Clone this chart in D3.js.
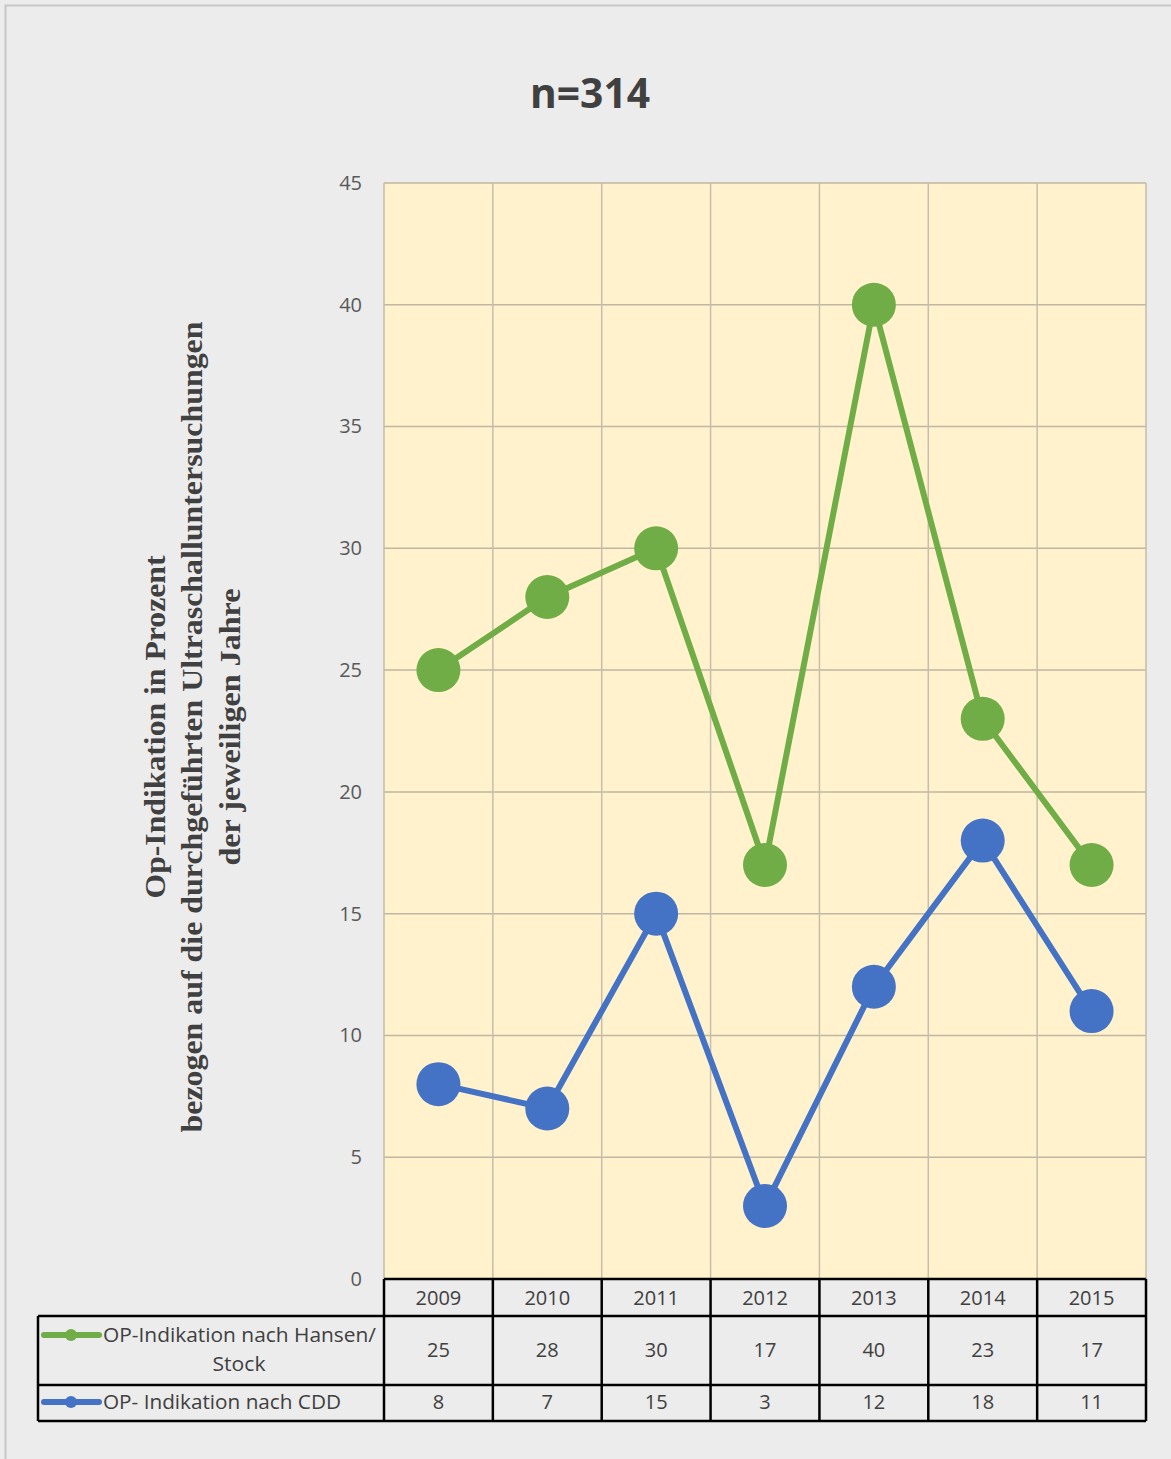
<!DOCTYPE html>
<html>
<head>
<meta charset="utf-8">
<script src="https://cdn.jsdelivr.net/npm/d3@7"></script>
<style>
  html, body { margin: 0; padding: 0; background: #ececec; }
  svg { display: block; }
</style>
</head>
<body>
<svg id="chart" width="1171" height="1459"></svg>
<script>
// Years on the category axis
const years = ["2009", "2010", "2011", "2012", "2013", "2014", "2015"];
// OP indication in percent, per series
const hansenStock = [25, 28, 30, 17, 40, 23, 17];
const cdd = [8, 7, 15, 3, 12, 18, 11];
// Y axis ticks
const yTicks = [0, 5, 10, 15, 20, 25, 30, 35, 40, 45];

const series = [
  { name: ["OP-Indikation nach Hansen/", "Stock"], values: hansenStock, color: "#70ad47" },
  { name: ["OP- Indikation nach CDD"], values: cdd, color: "#4472c4" }
];

const W = 1171, H = 1459;
const plot = { left: 384, right: 1146, top: 183, bottom: 1279 };
const table = { left: 38, headerBottom: 1316, row1Bottom: 1385, row2Bottom: 1421 };

const svg = d3.select("#chart");

// page background with a thin outer frame
svg.append("rect").attr("x", 0).attr("y", 0).attr("width", W).attr("height", H).attr("fill", "#ececec");
svg.append("rect").attr("x", 5.5).attr("y", 5.5).attr("width", W + 10).attr("height", H + 10)
  .attr("fill", "none").attr("stroke", "#c6c6c6").attr("stroke-width", 2);

const x = d3.scaleBand().domain(years).range([plot.left, plot.right]).padding(0);
const y = d3.scaleLinear().domain([0, 45]).range([plot.bottom, plot.top]);

// plot area fill
svg.append("rect")
  .attr("x", plot.left).attr("y", plot.top)
  .attr("width", plot.right - plot.left).attr("height", plot.bottom - plot.top)
  .attr("fill", "#fff2cc");

// horizontal gridlines
svg.append("g").selectAll("line").data(yTicks.filter(d => d > 0)).join("line")
  .attr("x1", plot.left).attr("x2", plot.right)
  .attr("y1", d => y(d)).attr("y2", d => y(d))
  .attr("stroke", "#bfb6a3").attr("stroke-width", 1.5);

// vertical gridlines at category boundaries
const bounds = years.map(d => x(d)).concat([plot.right]);
svg.append("g").selectAll("line").data(bounds).join("line")
  .attr("x1", d => d).attr("x2", d => d)
  .attr("y1", plot.top).attr("y2", plot.bottom)
  .attr("stroke", "#c6bdaa").attr("stroke-width", 1.5);

// y axis tick labels
const yAxis = d3.axisLeft(y).tickValues(yTicks).tickSize(0).tickPadding(22);
const yG = svg.append("g").attr("transform", `translate(${plot.left},0)`).call(yAxis);
yG.select(".domain").remove();
yG.selectAll("text")
  .attr("font-family", "'Open Sans', 'Noto Sans', sans-serif")
  .attr("font-size", 20).attr("fill", "#595959");

// title
svg.append("text")
  .attr("x", 590).attr("y", 108)
  .attr("text-anchor", "middle")
  .attr("font-family", "'Open Sans', 'Noto Sans', sans-serif")
  .attr("font-weight", "bold").attr("font-size", 41).attr("fill", "#404040")
  .attr("textLength", 120).attr("lengthAdjust", "spacingAndGlyphs")
  .text("n=314");

// rotated y axis title, three lines
const yTitle = [
  { text: "Op-Indikation in Prozent", x: 165, len: 343 },
  { text: "bezogen auf die durchgeführten Ultraschalluntersuchungen", x: 202, len: 811 },
  { text: "der jeweiligen Jahre", x: 240, len: 277 }
];
const centerY = 727;
svg.append("g").selectAll("text").data(yTitle).join("text")
  .attr("transform", d => `translate(${d.x},${centerY}) rotate(-90)`)
  .attr("text-anchor", "middle")
  .attr("font-family", "'Liberation Serif', 'Times New Roman', serif")
  .attr("font-weight", "bold").attr("font-size", 29).attr("fill", "#404040")
  .attr("textLength", d => d.len).attr("lengthAdjust", "spacingAndGlyphs")
  .text(d => d.text);

// lines and markers
const line = d3.line()
  .x((d, i) => x(years[i]) + x.bandwidth() / 2)
  .y(d => y(d));

series.forEach(s => {
  svg.append("path").datum(s.values)
    .attr("d", line).attr("fill", "none")
    .attr("stroke", s.color).attr("stroke-width", 6).attr("stroke-linejoin", "round");
  svg.append("g").selectAll("circle").data(s.values).join("circle")
    .attr("cx", (d, i) => x(years[i]) + x.bandwidth() / 2)
    .attr("cy", d => y(d))
    .attr("r", 22)
    .attr("fill", s.color);
});

// data table beneath the plot
const tg = svg.append("g");
const lineAttrs = sel => sel.attr("stroke", "#000").attr("stroke-width", 2.5).attr("fill", "none");

// horizontal rules
[[plot.left, plot.bottom], [table.left, table.headerBottom], [table.left, table.row1Bottom], [table.left, table.row2Bottom]]
  .forEach(([x0, yy]) => {
    tg.append("line").attr("x1", x0).attr("x2", plot.right).attr("y1", yy).attr("y2", yy).call(lineAttrs);
  });
// vertical rules
bounds.forEach(bx => {
  tg.append("line").attr("x1", bx).attr("x2", bx).attr("y1", plot.bottom).attr("y2", table.row2Bottom).call(lineAttrs);
});
tg.append("line").attr("x1", table.left).attr("x2", table.left)
  .attr("y1", table.headerBottom).attr("y2", table.row2Bottom).call(lineAttrs);

const tableFont = "'Open Sans', 'Noto Sans', sans-serif";
// year header
tg.selectAll("text.year").data(years).join("text").attr("class", "year")
  .attr("x", d => x(d) + x.bandwidth() / 2).attr("y", 1305)
  .attr("text-anchor", "middle").attr("font-family", tableFont)
  .attr("font-size", 20).attr("fill", "#404040").text(d => d);

// value rows
const rowCenters = [(table.headerBottom + table.row1Bottom) / 2, (table.row1Bottom + table.row2Bottom) / 2];
series.forEach((s, si) => {
  tg.append("g").selectAll("text").data(s.values).join("text")
    .attr("x", (d, i) => x(years[i]) + x.bandwidth() / 2)
    .attr("y", rowCenters[si] + 6)
    .attr("text-anchor", "middle").attr("font-family", tableFont)
    .attr("font-size", 20).attr("fill", "#404040").text(d => d);

  // legend key: short line with a dot
  const ky = si === 0 ? 1335 : 1402;
  tg.append("line").attr("x1", 44).attr("x2", 99).attr("y1", ky).attr("y2", ky)
    .attr("stroke", s.color).attr("stroke-width", 6).attr("stroke-linecap", "round");
  tg.append("circle").attr("cx", 71).attr("cy", ky).attr("r", 6).attr("fill", s.color);
});

// legend labels
tg.append("text").attr("x", 103).attr("y", 1342).attr("font-family", tableFont)
  .attr("font-size", 20).attr("fill", "#404040")
  .attr("textLength", 273).attr("lengthAdjust", "spacingAndGlyphs")
  .text(series[0].name[0]);
tg.append("text").attr("x", 239).attr("y", 1371).attr("text-anchor", "middle").attr("font-family", tableFont)
  .attr("font-size", 20).attr("fill", "#404040")
  .attr("textLength", 53).attr("lengthAdjust", "spacingAndGlyphs")
  .text(series[0].name[1]);
tg.append("text").attr("x", 103).attr("y", 1409).attr("font-family", tableFont)
  .attr("font-size", 20).attr("fill", "#404040")
  .attr("textLength", 238).attr("lengthAdjust", "spacingAndGlyphs")
  .text(series[1].name[0]);
</script>
</body>
</html>
